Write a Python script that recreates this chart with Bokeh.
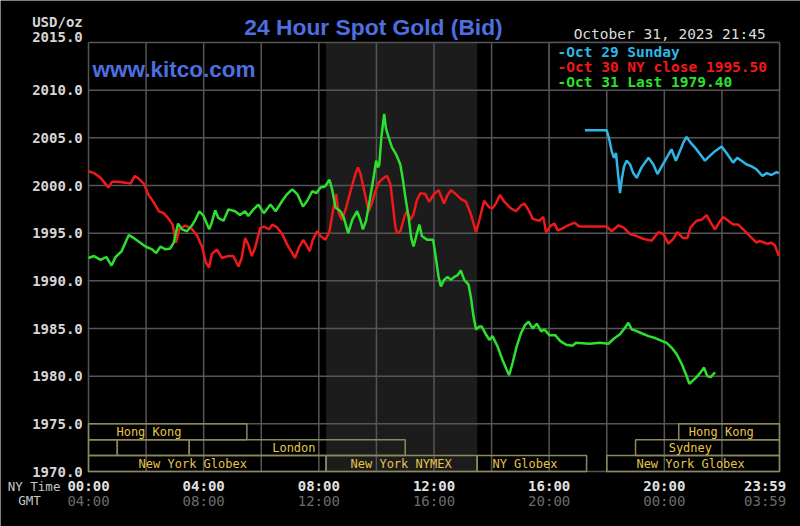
from bokeh.plotting import figure
from bokeh.models import Label, Range1d, ColumnDataSource
from bokeh.core.properties import value
from bokeh.embed import file_html
from bokeh.resources import INLINE

# ---------------- data ----------------
# hours (NY time) and bid prices
oct30_t = [0.0, 0.19, 0.42, 0.69, 0.82, 1.05, 1.28, 1.46, 1.61, 1.75, 1.92, 2.09, 2.27, 2.44, 2.61,
           2.76, 2.92, 3.04, 3.15, 3.36, 3.57, 3.76, 3.94, 4.08, 4.19, 4.28, 4.46, 4.63, 4.86, 5.03,
           5.21, 5.32, 5.44, 5.55, 5.67, 5.78, 5.96, 6.09, 6.27, 6.38, 6.55, 6.73, 6.90, 7.08, 7.17,
           7.31, 7.46, 7.60, 7.68, 7.79, 7.94, 8.06, 8.23, 8.37, 8.49, 8.60, 8.69, 8.81, 8.95, 9.10,
           9.27, 9.36, 9.45, 9.60, 9.73, 9.83, 9.94, 10.08, 10.25, 10.37, 10.49, 10.57, 10.66, 10.72,
           10.83, 10.98, 11.06, 11.18, 11.29, 11.41, 11.53, 11.70, 11.83, 12.00, 12.16, 12.35, 12.47,
           12.59, 12.76, 12.93, 13.11, 13.28, 13.46, 13.57, 13.74, 13.92, 14.03, 14.15, 14.29, 14.44,
           14.67, 14.85, 15.02, 15.14, 15.29, 15.43, 15.66, 15.80, 15.89, 16.06, 16.18, 16.30, 16.47,
           16.64, 16.88, 17.05, 17.40, 17.77, 18.00, 18.17, 18.40, 18.58, 18.81, 19.04, 19.27, 19.56,
           19.79, 19.97, 20.14, 20.31, 20.45, 20.64, 20.80, 20.91, 21.12, 21.29, 21.47, 21.61, 21.76,
           21.90, 22.04, 22.22, 22.39, 22.57, 22.74, 22.97, 23.20, 23.32, 23.55, 23.72, 23.84, 23.98]
oct30_v = [2001.5, 2001.3, 2000.8, 1999.8, 2000.4, 2000.4, 2000.3, 2000.2, 2001.0, 2000.7, 2000.2,
           1999.0, 1998.2, 1997.3, 1997.1, 1996.6, 1995.9, 1994.0, 1995.4, 1995.8, 1995.5, 1994.8,
           1993.6, 1991.9, 1991.4, 1992.8, 1993.3, 1992.4, 1992.6, 1992.6, 1991.5, 1992.4, 1994.5,
           1993.8, 1992.6, 1993.4, 1995.5, 1995.7, 1995.4, 1995.9, 1995.6, 1994.9, 1993.8, 1992.9,
           1992.4, 1993.5, 1994.3, 1993.6, 1993.1, 1994.3, 1995.2, 1994.7, 1994.3, 1995.2, 1997.3,
           1999.1, 1997.1, 1996.4, 1997.7, 1999.4, 2001.2, 2001.9, 2001.2, 1999.1, 1997.3, 1998.0,
           1999.2, 2000.3, 2000.8, 2001.0, 2000.1, 1998.0, 1995.6, 1995.0, 1995.2, 1996.8, 1997.3,
           1996.4, 1997.0, 1998.5, 1999.2, 1999.1, 1998.3, 1999.1, 1999.5, 1998.1, 1999.0, 1999.5,
           1999.1, 1998.6, 1998.3, 1997.0, 1995.1, 1996.3, 1998.4, 1997.7, 1997.6, 1998.1, 1999.0,
           1998.3, 1997.6, 1997.3, 1997.9, 1998.1, 1997.4, 1996.5, 1996.3, 1996.7, 1995.1, 1995.8,
           1996.0, 1995.3, 1995.5, 1995.8, 1996.1, 1995.7, 1995.7, 1995.7, 1995.7, 1995.2, 1995.8,
           1995.6, 1994.9, 1994.7, 1994.4, 1994.2, 1995.1, 1994.9, 1993.9, 1994.4, 1995.1, 1994.5,
           1994.5, 1995.6, 1996.3, 1996.4, 1996.9, 1996.1, 1995.4, 1996.1, 1996.7, 1996.3, 1995.9,
           1995.9, 1995.4, 1994.7, 1994.0, 1994.2, 1993.9, 1994.0, 1993.7, 1992.6]

oct31_t = [0.0, 0.19, 0.42, 0.62, 0.80, 0.94, 1.15, 1.28, 1.40, 1.57, 1.75, 1.98, 2.21, 2.35, 2.50,
           2.67, 2.84, 2.96, 3.11, 3.25, 3.42, 3.59, 3.71, 3.85, 4.00, 4.19, 4.28, 4.40, 4.51, 4.69,
           4.86, 5.09, 5.26, 5.44, 5.55, 5.73, 5.90, 6.09, 6.32, 6.50, 6.73, 6.90, 7.08, 7.25, 7.45,
           7.60, 7.77, 7.91, 8.06, 8.21, 8.37, 8.46, 8.58, 8.75, 8.87, 9.02, 9.16, 9.33, 9.45, 9.53,
           9.64, 9.77, 9.91, 9.99, 10.06, 10.10, 10.17, 10.27, 10.33, 10.43, 10.54, 10.68, 10.83,
           10.91, 11.01, 11.12, 11.21, 11.29, 11.41, 11.49, 11.58, 11.76, 11.97, 12.06, 12.16, 12.24,
           12.35, 12.47, 12.59, 12.70, 12.82, 12.93, 13.05, 13.20, 13.28, 13.37, 13.46, 13.57, 13.66,
           13.78, 13.92, 14.03, 14.21, 14.38, 14.52, 14.61, 14.73, 14.87, 15.02, 15.17, 15.29, 15.43,
           15.57, 15.72, 15.83, 16.01, 16.21, 16.38, 16.59, 16.82, 16.93, 17.40, 17.77, 18.06, 18.23,
           18.46, 18.64, 18.75, 18.87, 18.98, 19.21, 19.45, 19.68, 19.91, 20.08, 20.25, 20.43, 20.60,
           20.75, 20.87, 20.98, 21.12, 21.26, 21.38, 21.49, 21.61, 21.70, 21.76]
oct31_v = [1992.4, 1992.6, 1992.2, 1992.5, 1991.6, 1992.5, 1993.1, 1994.0, 1994.8, 1994.5, 1994.1,
           1993.6, 1993.3, 1992.9, 1993.6, 1993.3, 1993.4, 1994.0, 1996.0, 1995.4, 1995.2, 1995.8,
           1996.4, 1997.3, 1996.8, 1995.4, 1996.1, 1997.4, 1996.6, 1996.3, 1997.5, 1997.3, 1996.9,
           1997.3, 1996.8, 1997.5, 1998.0, 1997.1, 1998.0, 1997.3, 1998.4, 1999.1, 1999.6, 1999.1,
           1997.8, 1998.4, 1999.4, 1999.2, 1999.8, 1999.9, 2000.6, 1999.6, 1997.7, 1997.3, 1996.6,
           1995.0, 1996.4, 1997.3, 1996.3, 1995.4, 1996.3, 1998.5, 2001.0, 2002.6, 2001.9, 2002.2,
           2005.0, 2007.5, 2006.0, 2005.0, 2004.0, 2003.3, 2002.2, 2000.8, 1998.7, 1996.6, 1994.5,
           1993.6, 1995.0, 1995.9, 1994.7, 1994.3, 1994.3, 1992.5, 1990.4, 1989.4, 1990.1, 1990.4,
           1990.1, 1990.4, 1990.6, 1991.1, 1990.1, 1989.6, 1988.3, 1986.3, 1984.9, 1985.2, 1985.2,
           1984.5, 1983.8, 1984.2, 1983.1, 1981.7, 1980.7, 1980.1, 1981.4, 1983.1, 1984.5, 1985.4,
           1985.7, 1985.0, 1985.5, 1984.7, 1984.9, 1984.3, 1984.3, 1983.7, 1983.3, 1983.2, 1983.5,
           1983.4, 1983.5, 1983.4, 1983.9, 1984.4, 1985.1, 1985.6, 1984.9, 1984.8, 1984.5, 1984.2,
           1984.0, 1983.7, 1983.5, 1983.0, 1982.3, 1981.3, 1980.2, 1979.2, 1979.5, 1979.9, 1980.4,
           1980.9, 1980.0, 1979.9, 1980.2, 1980.4]

oct29_t = [17.24, 18.00, 18.09, 18.17, 18.25, 18.32, 18.40, 18.46, 18.52, 18.60, 18.69, 18.81, 18.92,
           19.04, 19.21, 19.45, 19.62, 19.76, 19.91, 20.08, 20.25, 20.40, 20.54, 20.66, 20.77, 20.91,
           21.06, 21.24, 21.41, 21.58, 21.76, 21.99, 22.16, 22.39, 22.53, 22.68, 22.86, 23.03, 23.20,
           23.41, 23.55, 23.72, 23.90, 23.98]
oct29_v = [2005.8, 2005.8, 2004.8, 2003.6, 2002.9, 2003.4, 2001.0, 1999.2, 2000.6, 2002.0, 2002.6,
           2002.2, 2001.3, 2000.8, 2001.9, 2002.9, 2002.2, 2001.2, 2002.0, 2002.9, 2003.8, 2002.6,
           2003.6, 2004.5, 2005.1, 2004.5, 2004.0, 2003.3, 2002.6, 2003.1, 2003.6, 2004.1, 2003.4,
           2002.4, 2002.9, 2002.6, 2002.2, 2002.0, 2001.7, 2001.0, 2001.3, 2001.1, 2001.4, 2001.3]

legend_texts = ["-Oct 29 Sunday", "-Oct 30 NY close 1995.50", "-Oct 31 Last 1979.40"]

y_ticks = [1970, 1975, 1980, 1985, 1990, 1995, 2000, 2005, 2010, 2015]
x_grid = [0, 2, 4, 6, 8, 10, 12, 14, 16, 18, 20, 22, 24]
x_label_pos = [0, 4, 8, 12, 16, 20, 24]
ny_labels = ["00:00", "04:00", "08:00", "12:00", "16:00", "20:00", "23:59"]
gmt_labels = ["04:00", "08:00", "12:00", "16:00", "20:00", "00:00", "03:59"]

nymex_open, nymex_close = 8.25, 13.5

# trading sessions: start, end (hours), row (0 top .. 2 bottom), label, label start
sess_start = [0.0, 20.5, 0.0, 1.0, 3.5, 19.0, 0.0, 8.25, 13.5, 18.0]
sess_end = [5.5, 24.0, 1.0, 3.5, 11.0, 24.0, 8.25, 13.5, 17.3, 24.0]
sess_row = [0, 0, 1, 1, 1, 1, 2, 2, 2, 2]
sess_name = ["Hong Kong", "Hong Kong", "", "", "London", "Sydney",
             "New York Globex", "New York NYMEX", "NY Globex", "New York Globex"]
sess_label_x = [0.97, 20.85, 0.0, 0.0, 6.38, 20.15, 1.74, 9.1, 14.03, 19.03]

# ---------------- styles ----------------
BG = "black"
GRID = "#555555"
CYAN = "#2fb6e6"
RED = "#f01818"
GREEN = "#2ee02e"
BLUE = "#4d6fe0"
SESS_LINE = "#8c8a5c"
SESS_TEXT = "#e6c44a"
MONO = "DejaVu Sans Mono"

W, H = 800, 526
# chart box inside the page (pixels): left 88, right 779, top 42, bottom 471
x0, x1 = x_grid[0], x_grid[-1]
y0, y1 = y_ticks[0], y_ticks[-1]
pxh = (779 - 88) / (x1 - x0)
pyu = (471 - 42) / (y1 - y0)
xr = Range1d(x0 - 88 / pxh, x1 + (W - 779) / pxh)
yr = Range1d(y0 - (H - 471) / pyu, y1 + 42 / pyu)

p = figure(width=W, height=H, x_range=xr, y_range=yr,
           output_backend="svg", toolbar_location=None,
           x_axis_location=None, y_axis_location=None,
           min_border=0, min_border_left=0, min_border_right=0,
           min_border_top=0, min_border_bottom=0)
p.title.visible = False
p.grid.visible = False
p.background_fill_color = BG
p.border_fill_color = BG
p.outline_line_color = None

# NYMEX shading
p.quad(left=[nymex_open], right=[nymex_close], bottom=[y0], top=[y1],
       fill_color="#1c1c1c", line_color=None)

# grid
p.segment(x0=x_grid, x1=x_grid, y0=[y0] * len(x_grid), y1=[y1] * len(x_grid),
          line_color=GRID, line_width=1.5)
p.segment(x0=[x0] * len(y_ticks), x1=[x1] * len(y_ticks), y0=y_ticks, y1=y_ticks,
          line_color=GRID, line_width=1.5)

# session boxes
row_h = (y_ticks[1] - y_ticks[0]) / 3.0
sess_top = [y_ticks[1] - r * row_h for r in sess_row]
sess_bot = [t - row_h for t in sess_top]
src = ColumnDataSource(dict(left=sess_start, right=sess_end, top=sess_top, bottom=sess_bot,
                            name=sess_name, lx=sess_label_x,
                            ly=[b + row_h / 2 for b in sess_bot]))
p.quad(left="left", right="right", top="top", bottom="bottom", source=src,
       fill_color=None, line_color=SESS_LINE, line_width=1.5)
p.text(x="lx", y="ly", text="name", source=src, text_color=SESS_TEXT,
       text_font=value(MONO), text_font_size="12px", text_baseline="middle", text_align="left")

# series
p.line(oct30_t, oct30_v, line_color=RED, line_width=2.5)
p.line(oct31_t, oct31_v, line_color=GREEN, line_width=2.5)
p.line(oct29_t, oct29_v, line_color=CYAN, line_width=2.5)

# legend box
p.quad(left=[16], right=[x1], bottom=[2010], top=[y1], fill_color=BG, line_color=GRID,
       line_width=1.5)
for txt, col, yy in zip(legend_texts, [CYAN, RED, GREEN], [2013.98, 2012.41, 2010.84]):
    p.add_layout(Label(x=16.29, y=yy, text=txt, text_color=col, text_font=MONO,
                       text_font_size="14.5px", text_font_style="bold", text_baseline="middle"))


def lab(text, x, y, color, size, font=MONO, style="normal", align="left"):
    p.add_layout(Label(x=x, y=y, text=text, text_color=color, text_font=font,
                       text_font_size=size, text_font_style=style, text_align=align,
                       text_baseline="middle"))


# y tick labels
for v in y_ticks:
    yy = v + 0.55 if v == y_ticks[-1] else v
    lab("%.1f" % v, -0.2, yy, "#d6d6d6", "14px", style="bold", align="right")
lab("USD/oz", -0.2, 2017.15, "#d6d6d6", "14px", style="bold", align="right")

# x tick labels
for h, ny, gmt in zip(x_label_pos, ny_labels, gmt_labels):
    xx = h - 0.5 if h == x_label_pos[-1] else h
    lab(ny, xx, 1968.45, "#e2e2e2", "14px", style="bold", align="center")
    lab(gmt, xx, 1966.95, "#6c6c6c", "14px", align="center")
lab("NY Time", -1.89, 1968.45, "#c8c8c8", "12.5px", align="center")
lab("GMT", -2.05, 1966.95, "#c8c8c8", "12.5px", align="center")

# titles
lab("24 Hour Spot Gold (Bid)", 9.9, 2016.6, BLUE, "22.8px", font="Liberation Sans",
    style="bold", align="center")
lab("www.kitco.com", 0.14, 2012.2, BLUE, "22.5px", font="Liberation Sans", style="bold")
lab("October 31, 2023 21:45", 16.85, 2015.94, "#dcdcdc", "14.5px")

open("out.html", "w").write(file_html(p, INLINE))
